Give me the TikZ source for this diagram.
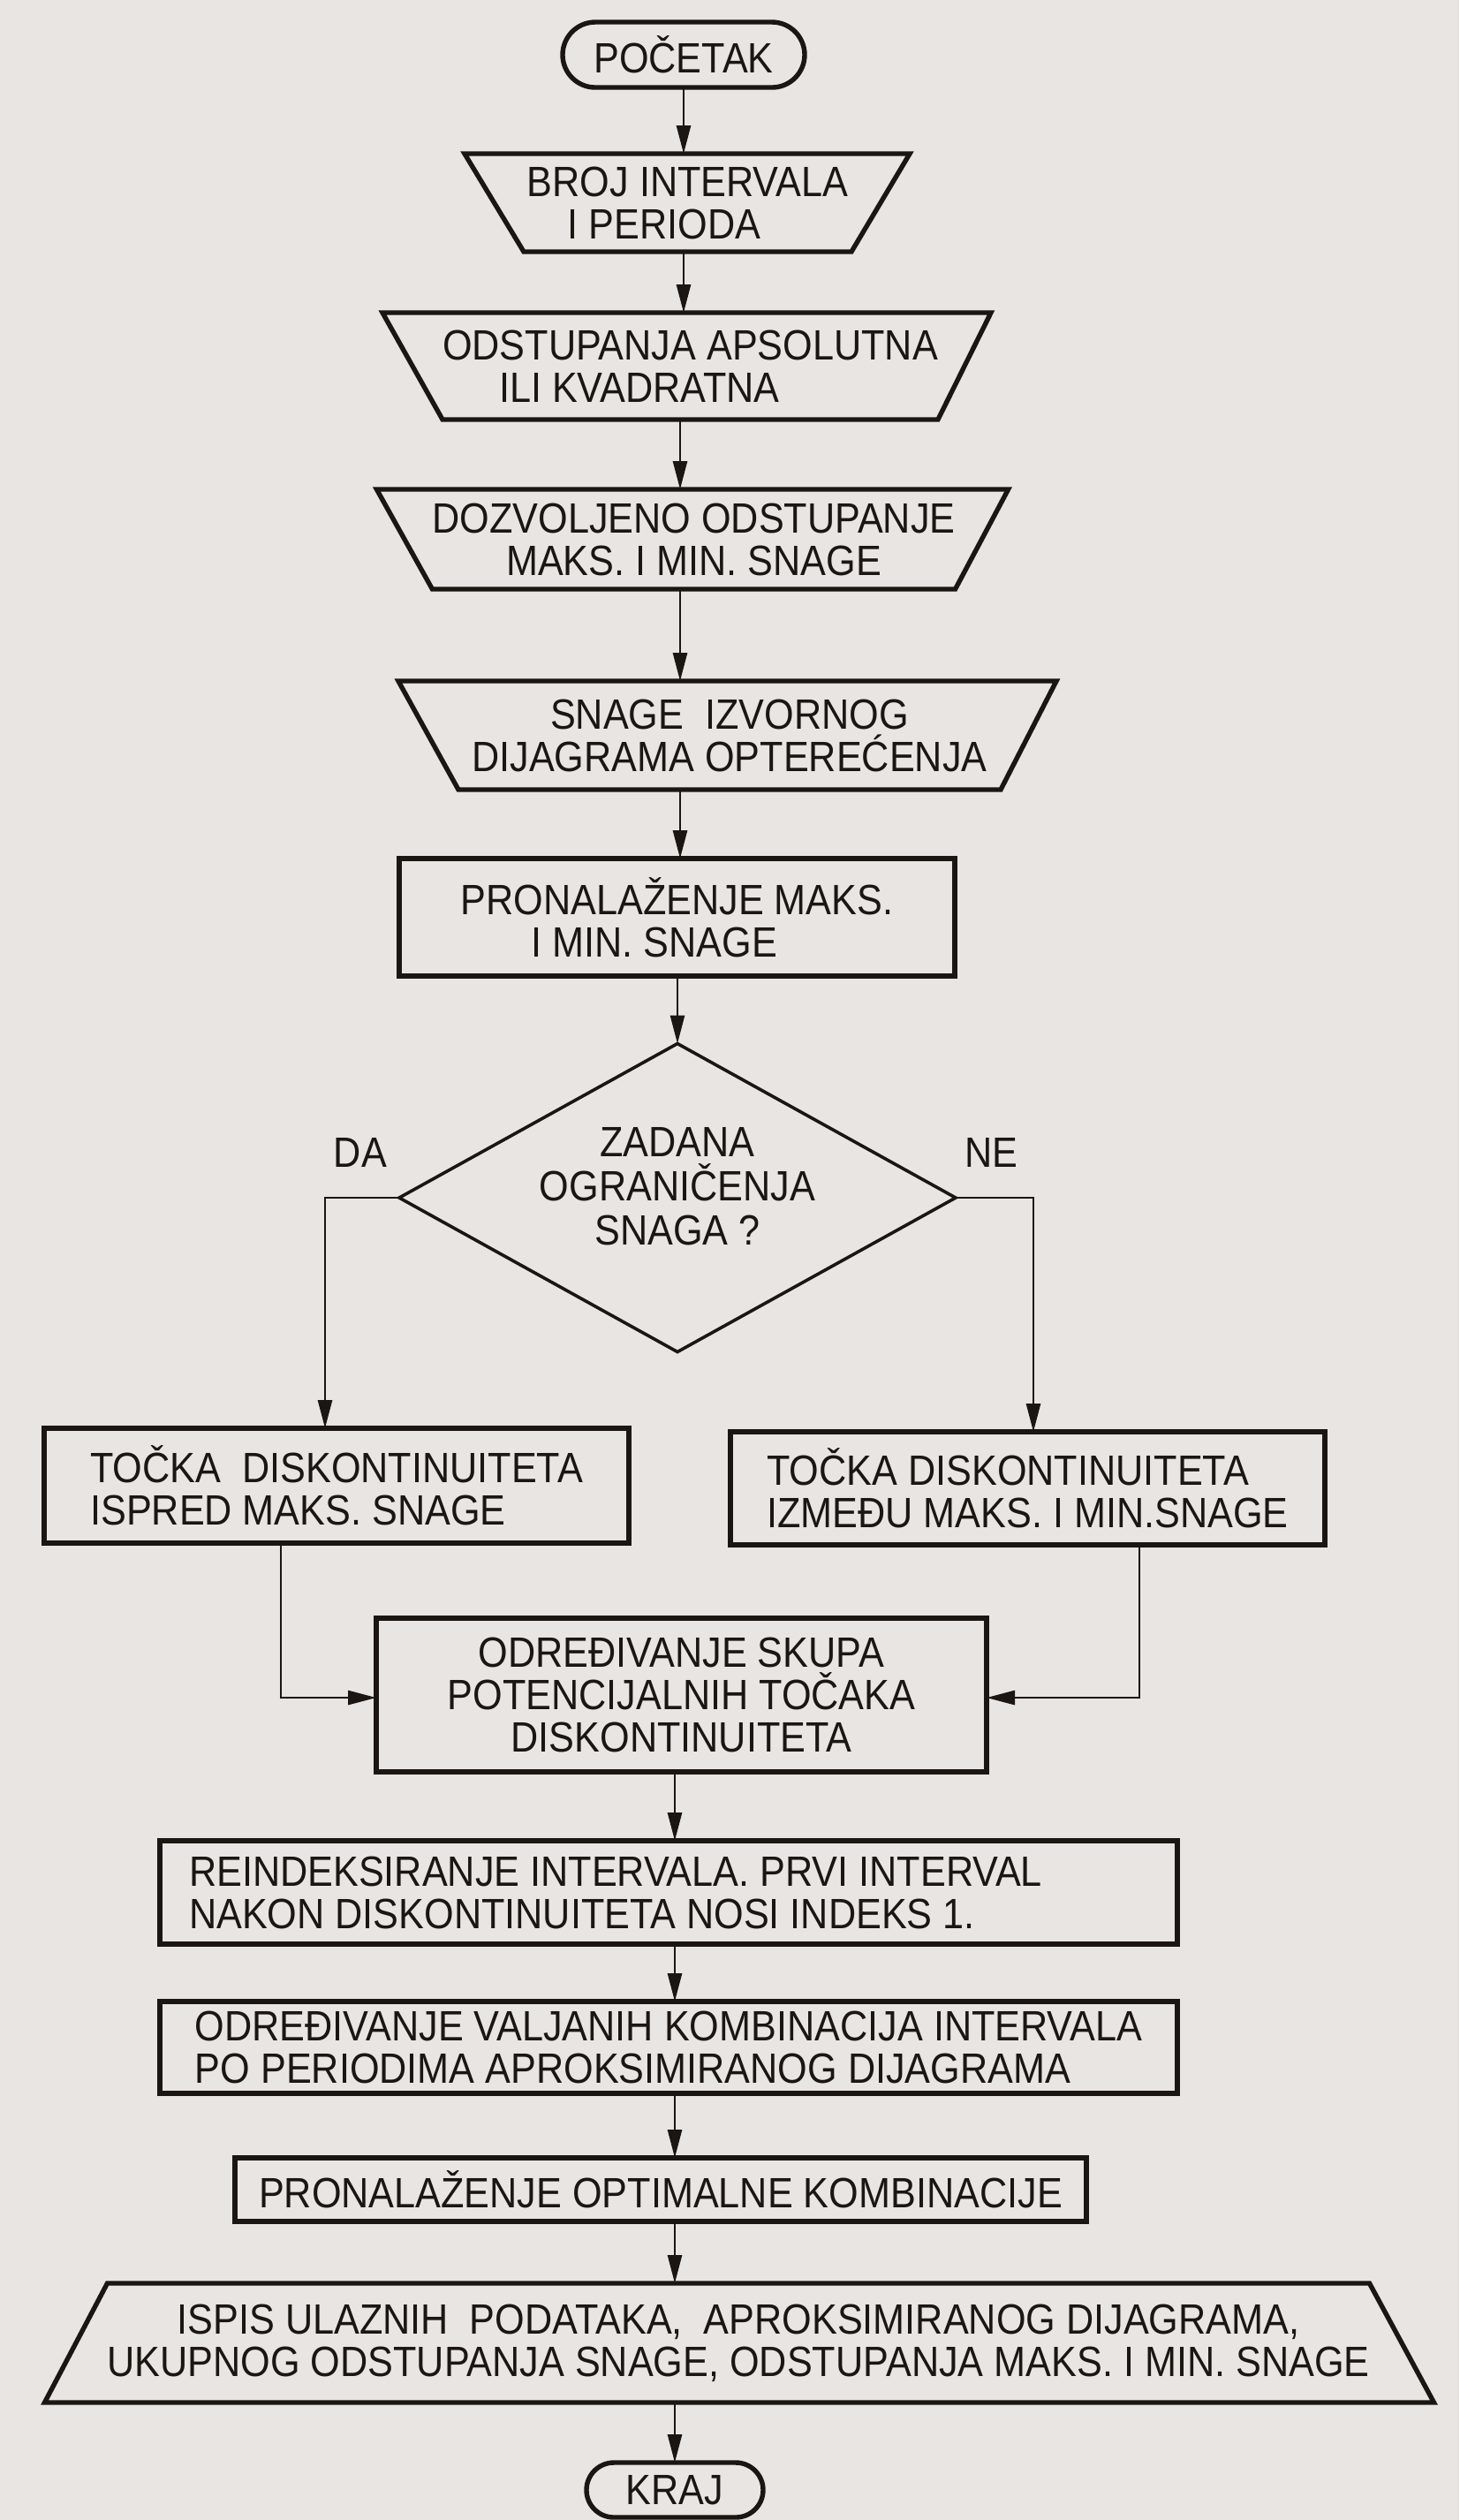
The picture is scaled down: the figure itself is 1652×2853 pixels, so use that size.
\documentclass[tikz,border=0pt]{standalone}
\usepackage{fontspec}
\setmainfont{Liberation Sans}[FakeStretch=0.9]
\usetikzlibrary{shapes.geometric,shapes.misc,arrows.meta,calc}
\definecolor{bg}{RGB}{233,229,226}
\definecolor{ink}{RGB}{28,22,18}
\begin{document}
\begin{tikzpicture}[x=0.25pt,y=-0.25pt,
  every node/.style={font=\fontsize{12}{12}\selectfont, text=ink, inner sep=0pt, outer sep=0pt},
  txt/.style={rectangle, align=center},
  box/.style={rectangle, draw=ink, line width=1.35pt, align=center},
  outline/.style={draw=ink, line width=1.35pt, line join=miter},
  term/.style={rounded rectangle, draw=ink, line width=1.35pt},
  decision/.style={diamond, draw=ink, line width=0.9pt},
  conn/.style={draw=ink, line width=0.7pt, -{Triangle[length=8pt,width=4pt]}},
]
\path[use as bounding box, fill=bg] (0,0) rectangle (1652,2853);

% terminals and steps
\node[term, minimum width=68.5pt, minimum height=18.5pt] (start) at (774,62) {POČETAK};

\node[txt, align=left, minimum width=92.75pt, minimum height=27.75pt] (t1) at (778.5,229.5)
  {BROJ INTERVALA\\\hspace*{11.5pt}I PERIODA};
\draw[outline] ($(t1.north west)+(-67,0)$) -- ($(t1.north east)+(66,0)$) -- (t1.south east) -- (t1.south west) -- cycle;

\node[txt, align=left, minimum width=131.25pt, minimum height=30.25pt] (t2) at (781.5,414.5)
  {ODSTUPANJA APSOLUTNA\\\hspace*{16pt}ILI KVADRATNA};
\draw[outline] ($(t2.north west)+(-68,0)$) -- ($(t2.north east)+(60,0)$) -- (t2.south east) -- (t2.south west) -- cycle;

\node[txt, minimum width=132.25pt, minimum height=28.25pt] (t3) at (785.5,610.5)
  {DOZVOLJENO ODSTUPANJE\\MAKS. I MIN. SNAGE};
\draw[outline] ($(t3.north west)+(-63,0)$) -- ($(t3.north east)+(60,0)$) -- (t3.south east) -- (t3.south west) -- cycle;

\node[txt, minimum width=153.5pt, minimum height=30.75pt] (t4) at (826,832.5)
  {SNAGE\enspace IZVORNOG\\DIJAGRAMA OPTEREĆENJA};
\draw[outline] ($(t4.north west)+(-68,0)$) -- ($(t4.north east)+(63,0)$) -- (t4.south east) -- (t4.south west) -- cycle;

\node[box, align=left, minimum width=157.25pt, minimum height=33.25pt] (b1) at (766.5,1038.5)
  {PRONALAŽENJE MAKS.\\\hspace*{20pt}I MIN. SNAGE};

\node[decision, minimum width=157.5pt, minimum height=87.25pt] (q) at (767,1356) {};
\node[txt, font=\fontsize{12}{12.5}\selectfont] (qtext) at (767,1343) {ZADANA\\OGRANIČENJA\\SNAGA ?};
\node (dalab) at (408,1305) {DA};
\node (nelab) at (1122,1305) {NE};

\node[box, align=left, minimum width=165.5pt, minimum height=32.5pt] (lb) at (381,1682)
  {TOČKA\enspace DISKONTINUITETA\\ISPRED MAKS. SNAGE};
\node[box, align=left, minimum width=168.25pt, minimum height=32pt] (rb) at (1163.5,1685)
  {TOČKA DISKONTINUITETA\\IZMEĐU MAKS. I MIN.SNAGE};

\node[box, minimum width=172.75pt, minimum height=43.5pt] (c) at (771.5,1919)
  {ODREĐIVANJE SKUPA\\POTENCIJALNIH TOČAKA\\DISKONTINUITETA};

\node[box, align=left, minimum width=288pt, minimum height=29.25pt] (r1) at (757,2142.5)
  {REINDEKSIRANJE INTERVALA. PRVI INTERVAL\hspace*{30pt}\\NAKON DISKONTINUITETA NOSI INDEKS 1.};
\node[box, align=left, minimum width=288pt, minimum height=26pt] (r2) at (757,2318)
  {ODREĐIVANJE VALJANIH KOMBINACIJA INTERVALA\\PO PERIODIMA APROKSIMIRANOG DIJAGRAMA};
\node[box, minimum width=241pt, minimum height=18pt] (r3) at (748,2479)
  {PRONALAŽENJE OPTIMALNE KOMBINACIJE};

\node[txt, minimum width=352.5pt, minimum height=33.75pt] (out) at (836,2652.5)
  {ISPIS ULAZNIH\enspace PODATAKA,\enspace APROKSIMIRANOG DIJAGRAMA,\\UKUPNOG ODSTUPANJA SNAGE, ODSTUPANJA MAKS. I MIN. SNAGE};
\draw[outline] (out.north west) -- (out.north east) -- ($(out.south east)+(73,0)$) -- ($(out.south west)+(-71,0)$) -- cycle;

\node[term, minimum width=50pt, minimum height=15.5pt] (end) at (764,2819) {KRAJ};

% connectors
\coordinate (s1) at (774,0);
\coordinate (s2) at (770,0);
\coordinate (s3) at (764,0);
\draw[conn] (s1 |- start.south) -- (s1 |- t1.north);
\draw[conn] (s1 |- t1.south) -- (s1 |- t2.north);
\draw[conn] (s2 |- t2.south) -- (s2 |- t3.north);
\draw[conn] (s2 |- t3.south) -- (s2 |- t4.north);
\draw[conn] (s2 |- t4.south) -- (s2 |- b1.north);
\draw[conn] (q.north |- b1.south) -- (q.north);

\coordinate (da) at (368,1356);
\coordinate (ne) at (1170,1356);
\draw[conn] (q.west) -- (da) -- (da |- lb.north);
\draw[conn] (q.east) -- (ne) -- (ne |- rb.north);

\coordinate (lc) at (318,1922);
\coordinate (rc) at (1290,1922);
\draw[conn] (lc |- lb.south) -- (lc) -- (lc -| c.west);
\draw[conn] (rc |- rb.south) -- (rc) -- (rc -| c.east);

\draw[conn] (s3 |- c.south) -- (s3 |- r1.north);
\draw[conn] (s3 |- r1.south) -- (s3 |- r2.north);
\draw[conn] (s3 |- r2.south) -- (s3 |- r3.north);
\draw[conn] (s3 |- r3.south) -- (s3 |- out.north);
\draw[conn] (s3 |- out.south) -- (s3 |- end.north);
\end{tikzpicture}
\end{document}
